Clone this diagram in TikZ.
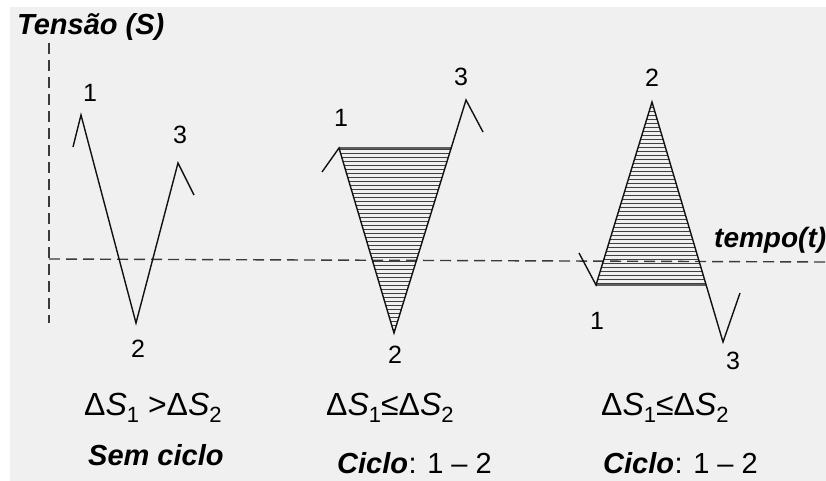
\documentclass[tikz,border=0pt]{standalone}
\usepackage{fontspec}
\setmainfont{Liberation Sans}
\definecolor{paper}{HTML}{F0F0F0}
\definecolor{ink}{HTML}{111111}
\definecolor{axisgray}{HTML}{3A3A3A}
\newcommand{\lowsub}[1]{\raisebox{-7pt}{\fontsize{22}{22}\selectfont #1}}
\newcommand{\dS}[1]{Δ\textit{S}\lowsub{#1}}

\begin{document}
\begin{tikzpicture}[x=1pt,y=-1pt,
  curve/.style={draw=ink, line width=1.4pt, line join=miter},
  axisline/.style={draw=axisgray, line width=1.4pt, dash pattern=on 11pt off 6pt},
  hatch/.style={draw=black!75, line width=0.75pt},
  ptlabel/.style={font=\fontsize{25}{25}\selectfont, inner sep=0pt},
  relation/.style={font=\fontsize{32}{32}\selectfont, inner sep=0pt, anchor=base west},
  caption/.style={font=\fontsize{29}{29}\selectfont\bfseries\itshape, inner sep=0pt, anchor=base west},
  plain/.style={font=\fontsize{29}{29}\selectfont, inner sep=0pt, anchor=base west},
]
% canvas
\useasboundingbox (0,0) rectangle (826,481);
\fill[white] (0,0) rectangle (826,481);
\fill[paper] (10,7) rectangle (826,481);

% axes
\coordinate (ytop) at (49,43);
\coordinate (ybot) at (49,323);
\coordinate (xleft) at (49,259);
\coordinate (xright) at (826,262);
\draw[axisline] (ytop) -- (ybot);
\draw[axisline] (xleft) -- (xright);
\node[font=\fontsize{29}{29}\selectfont\bfseries\itshape, inner sep=0pt, anchor=base west] (ylab) at (17,35) {Tensão (S)};
\node[font=\fontsize{28}{28}\selectfont\bfseries\itshape, inner sep=0pt, anchor=base west] (xlab) at (714,247) {tempo(t)};

% ---- case A: no cycle
\coordinate (a0) at (73,147);
\coordinate (a1) at (81,115);
\coordinate (a2) at (136,323);
\coordinate (a3) at (178,163);
\coordinate (a4) at (194,195);
\draw[curve] (a0) -- (a1) -- (a2) -- (a3) -- (a4);
\node[ptlabel] (la1) at (90,93) {1};
\node[ptlabel] (la2) at (138,349) {2};
\node[ptlabel] (la3) at (180,135) {3};

% ---- case B: cycle 1-2 below
\coordinate (b0) at (322,172);
\coordinate (b1) at (339,148);
\coordinate (b2) at (394,333);
\coordinate (b3) at (466,100);
\coordinate (b4) at (483,132);
\coordinate (b1h) at (500,148);
\coordinate (bq) at (intersection of b2--b3 and b1--b1h);
\begin{scope}
  \clip (b1) -- (bq) -- (b2) -- cycle;
  \foreach \y in {149,153,...,335} \draw[hatch] (330,\y) -- (470,\y);
\end{scope}
\draw[curve] (b0) -- (b1) -- (b2) -- (b3) -- (b4);
\draw[curve] (b1) -- (bq);
\node[ptlabel] (lb1) at (341,118) {1};
\node[ptlabel] (lb2) at (395,355) {2};
\node[ptlabel] (lb3) at (461,77) {3};

% ---- case C: cycle 1-2 above
\coordinate (c0) at (579,253);
\coordinate (c1) at (596,285);
\coordinate (c2) at (652,102);
\coordinate (c3) at (723,342);
\coordinate (c4) at (740,293);
\coordinate (c1h) at (760,285);
\coordinate (cq) at (intersection of c2--c3 and c1--c1h);
\begin{scope}
  \clip (c1) -- (c2) -- (cq) -- cycle;
  \foreach \y in {103,107,...,287} \draw[hatch] (590,\y) -- (720,\y);
\end{scope}
\draw[curve] (c0) -- (c1) -- (c2) -- (c3) -- (c4);
\draw[curve] (c1) -- (cq);
\node[ptlabel] (lc1) at (597,321) {1};
\node[ptlabel] (lc2) at (652,78) {2};
\node[ptlabel] (lc3) at (733,361) {3};

% ---- relations and captions
\node[relation] (ra) at (84,415) {\dS{1} >\dS{2}};
\node[relation] (rb) at (326,415) {\dS{1}≤\dS{2}};
\node[relation] (rc) at (601,415) {\dS{1}≤\dS{2}};
\node[caption] (ca) at (88,465) {Sem ciclo};
\node[caption] (cb) at (337,473) {Ciclo};
\node[plain, anchor=base west] (cbn) at (cb.base east) {: 1 – 2};
\node[caption] (cc) at (603,473) {Ciclo};
\node[plain, anchor=base west] (ccn) at (cc.base east) {: 1 – 2};
\end{tikzpicture}
\end{document}
